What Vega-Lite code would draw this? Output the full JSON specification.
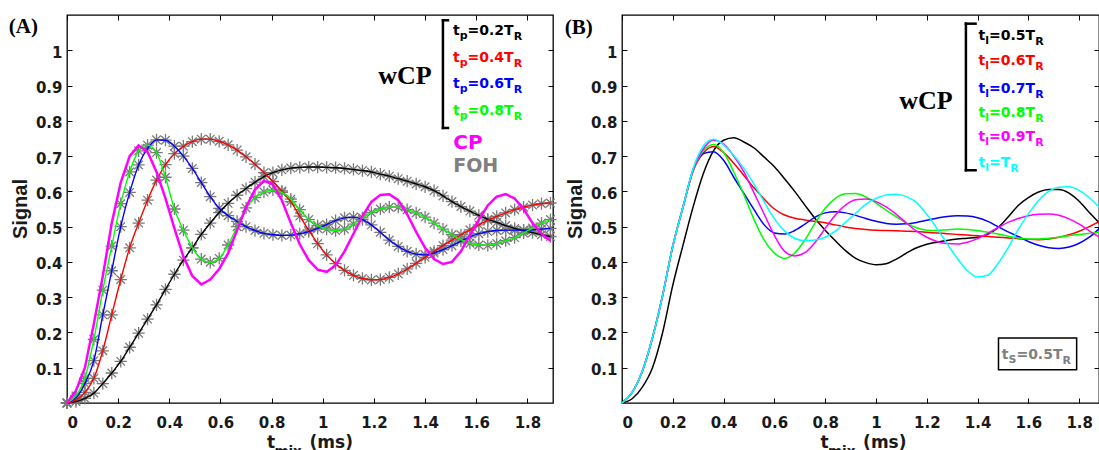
{
"$schema": "https://vega.github.io/schema/vega-lite/v6.json",
"background": "white",
"padding": {"left": 8, "top": 13, "right": 0, "bottom": 0},
"autosize": {"type": "pad"},
"bounds": "flush",
"spacing": 69,
"resolve": {"scale": {"color": "independent"}},
"config": {
  "view": {"stroke": "#000000", "strokeWidth": 1.3},
  "axis": {"grid": false, "domain": false, "tickColor": "#000000", "tickSize": -5, "tickWidth": 1,
    "labelFont": "DejaVu Sans", "labelFontWeight": "bold", "labelFontSize": 15, "labelColor": "#1a1a1a"},
  "text": {"font": "DejaVu Sans", "fontWeight": "bold", "align": "left", "baseline": "alphabetic"}
},
"datasets": {
"a": [
{"series":"tp=0.2TR","t":0,"signal":0},{"series":"tp=0.2TR","t":0.035,"signal":0.004},{"series":"tp=0.2TR","t":0.07,"signal":0.013},{"series":"tp=0.2TR","t":0.105,"signal":0.028},{"series":"tp=0.2TR","t":0.14,"signal":0.055},{"series":"tp=0.2TR","t":0.175,"signal":0.085},{"series":"tp=0.2TR","t":0.21,"signal":0.118},{"series":"tp=0.2TR","t":0.245,"signal":0.158},{"series":"tp=0.2TR","t":0.28,"signal":0.198},{"series":"tp=0.2TR","t":0.315,"signal":0.238},{"series":"tp=0.2TR","t":0.35,"signal":0.278},{"series":"tp=0.2TR","t":0.385,"signal":0.322},{"series":"tp=0.2TR","t":0.42,"signal":0.365},{"series":"tp=0.2TR","t":0.455,"signal":0.405},{"series":"tp=0.2TR","t":0.49,"signal":0.44},{"series":"tp=0.2TR","t":0.525,"signal":0.478},{"series":"tp=0.2TR","t":0.56,"signal":0.51},{"series":"tp=0.2TR","t":0.595,"signal":0.54},{"series":"tp=0.2TR","t":0.63,"signal":0.566},{"series":"tp=0.2TR","t":0.665,"signal":0.589},{"series":"tp=0.2TR","t":0.7,"signal":0.608},{"series":"tp=0.2TR","t":0.735,"signal":0.626},{"series":"tp=0.2TR","t":0.77,"signal":0.642},{"series":"tp=0.2TR","t":0.805,"signal":0.653},{"series":"tp=0.2TR","t":0.84,"signal":0.661},{"series":"tp=0.2TR","t":0.875,"signal":0.666},{"series":"tp=0.2TR","t":0.91,"signal":0.668},{"series":"tp=0.2TR","t":0.945,"signal":0.669},{"series":"tp=0.2TR","t":0.98,"signal":0.669},{"series":"tp=0.2TR","t":1.015,"signal":0.668},{"series":"tp=0.2TR","t":1.05,"signal":0.667},{"series":"tp=0.2TR","t":1.085,"signal":0.665},{"series":"tp=0.2TR","t":1.12,"signal":0.662},{"series":"tp=0.2TR","t":1.155,"signal":0.659},{"series":"tp=0.2TR","t":1.19,"signal":0.655},{"series":"tp=0.2TR","t":1.225,"signal":0.649},{"series":"tp=0.2TR","t":1.26,"signal":0.643},{"series":"tp=0.2TR","t":1.295,"signal":0.636},{"series":"tp=0.2TR","t":1.33,"signal":0.629},{"series":"tp=0.2TR","t":1.365,"signal":0.621},{"series":"tp=0.2TR","t":1.4,"signal":0.613},{"series":"tp=0.2TR","t":1.435,"signal":0.602},{"series":"tp=0.2TR","t":1.47,"signal":0.587},{"series":"tp=0.2TR","t":1.505,"signal":0.571},{"series":"tp=0.2TR","t":1.54,"signal":0.557},{"series":"tp=0.2TR","t":1.575,"signal":0.544},{"series":"tp=0.2TR","t":1.61,"signal":0.532},{"series":"tp=0.2TR","t":1.645,"signal":0.521},{"series":"tp=0.2TR","t":1.68,"signal":0.512},{"series":"tp=0.2TR","t":1.715,"signal":0.503},{"series":"tp=0.2TR","t":1.75,"signal":0.495},{"series":"tp=0.2TR","t":1.785,"signal":0.489},{"series":"tp=0.2TR","t":1.82,"signal":0.483},{"series":"tp=0.2TR","t":1.855,"signal":0.477},{"series":"tp=0.2TR","t":1.89,"signal":0.472},
{"series":"tp=0.4TR","t":0,"signal":0},{"series":"tp=0.4TR","t":0.035,"signal":0.008},{"series":"tp=0.4TR","t":0.07,"signal":0.03},{"series":"tp=0.4TR","t":0.105,"signal":0.07},{"series":"tp=0.4TR","t":0.14,"signal":0.148},{"series":"tp=0.4TR","t":0.175,"signal":0.25},{"series":"tp=0.4TR","t":0.21,"signal":0.35},{"series":"tp=0.4TR","t":0.245,"signal":0.44},{"series":"tp=0.4TR","t":0.28,"signal":0.51},{"series":"tp=0.4TR","t":0.315,"signal":0.575},{"series":"tp=0.4TR","t":0.35,"signal":0.632},{"series":"tp=0.4TR","t":0.385,"signal":0.676},{"series":"tp=0.4TR","t":0.42,"signal":0.707},{"series":"tp=0.4TR","t":0.455,"signal":0.728},{"series":"tp=0.4TR","t":0.49,"signal":0.741},{"series":"tp=0.4TR","t":0.525,"signal":0.748},{"series":"tp=0.4TR","t":0.56,"signal":0.748},{"series":"tp=0.4TR","t":0.595,"signal":0.742},{"series":"tp=0.4TR","t":0.63,"signal":0.732},{"series":"tp=0.4TR","t":0.665,"signal":0.717},{"series":"tp=0.4TR","t":0.7,"signal":0.698},{"series":"tp=0.4TR","t":0.735,"signal":0.677},{"series":"tp=0.4TR","t":0.77,"signal":0.653},{"series":"tp=0.4TR","t":0.805,"signal":0.628},{"series":"tp=0.4TR","t":0.84,"signal":0.601},{"series":"tp=0.4TR","t":0.875,"signal":0.571},{"series":"tp=0.4TR","t":0.91,"signal":0.53},{"series":"tp=0.4TR","t":0.945,"signal":0.49},{"series":"tp=0.4TR","t":0.98,"signal":0.452},{"series":"tp=0.4TR","t":1.015,"signal":0.42},{"series":"tp=0.4TR","t":1.05,"signal":0.395},{"series":"tp=0.4TR","t":1.085,"signal":0.376},{"series":"tp=0.4TR","t":1.12,"signal":0.362},{"series":"tp=0.4TR","t":1.155,"signal":0.353},{"series":"tp=0.4TR","t":1.19,"signal":0.349},{"series":"tp=0.4TR","t":1.225,"signal":0.35},{"series":"tp=0.4TR","t":1.26,"signal":0.356},{"series":"tp=0.4TR","t":1.295,"signal":0.366},{"series":"tp=0.4TR","t":1.33,"signal":0.38},{"series":"tp=0.4TR","t":1.365,"signal":0.396},{"series":"tp=0.4TR","t":1.4,"signal":0.413},{"series":"tp=0.4TR","t":1.435,"signal":0.43},{"series":"tp=0.4TR","t":1.47,"signal":0.446},{"series":"tp=0.4TR","t":1.505,"signal":0.462},{"series":"tp=0.4TR","t":1.54,"signal":0.477},{"series":"tp=0.4TR","t":1.575,"signal":0.491},{"series":"tp=0.4TR","t":1.61,"signal":0.505},{"series":"tp=0.4TR","t":1.645,"signal":0.518},{"series":"tp=0.4TR","t":1.68,"signal":0.529},{"series":"tp=0.4TR","t":1.715,"signal":0.539},{"series":"tp=0.4TR","t":1.75,"signal":0.548},{"series":"tp=0.4TR","t":1.785,"signal":0.555},{"series":"tp=0.4TR","t":1.82,"signal":0.561},{"series":"tp=0.4TR","t":1.855,"signal":0.565},{"series":"tp=0.4TR","t":1.89,"signal":0.567},
{"series":"tp=0.6TR","t":0,"signal":0},{"series":"tp=0.6TR","t":0.035,"signal":0.015},{"series":"tp=0.6TR","t":0.07,"signal":0.055},{"series":"tp=0.6TR","t":0.105,"signal":0.12},{"series":"tp=0.6TR","t":0.14,"signal":0.25},{"series":"tp=0.6TR","t":0.175,"signal":0.375},{"series":"tp=0.6TR","t":0.21,"signal":0.5},{"series":"tp=0.6TR","t":0.245,"signal":0.597},{"series":"tp=0.6TR","t":0.28,"signal":0.675},{"series":"tp=0.6TR","t":0.315,"signal":0.722},{"series":"tp=0.6TR","t":0.35,"signal":0.746},{"series":"tp=0.6TR","t":0.385,"signal":0.745},{"series":"tp=0.6TR","t":0.42,"signal":0.728},{"series":"tp=0.6TR","t":0.455,"signal":0.7},{"series":"tp=0.6TR","t":0.49,"signal":0.665},{"series":"tp=0.6TR","t":0.525,"signal":0.625},{"series":"tp=0.6TR","t":0.56,"signal":0.585},{"series":"tp=0.6TR","t":0.595,"signal":0.552},{"series":"tp=0.6TR","t":0.63,"signal":0.531},{"series":"tp=0.6TR","t":0.665,"signal":0.515},{"series":"tp=0.6TR","t":0.7,"signal":0.5},{"series":"tp=0.6TR","t":0.735,"signal":0.489},{"series":"tp=0.6TR","t":0.77,"signal":0.481},{"series":"tp=0.6TR","t":0.805,"signal":0.477},{"series":"tp=0.6TR","t":0.84,"signal":0.475},{"series":"tp=0.6TR","t":0.875,"signal":0.476},{"series":"tp=0.6TR","t":0.91,"signal":0.48},{"series":"tp=0.6TR","t":0.945,"signal":0.486},{"series":"tp=0.6TR","t":0.98,"signal":0.495},{"series":"tp=0.6TR","t":1.015,"signal":0.506},{"series":"tp=0.6TR","t":1.05,"signal":0.517},{"series":"tp=0.6TR","t":1.085,"signal":0.525},{"series":"tp=0.6TR","t":1.12,"signal":0.527},{"series":"tp=0.6TR","t":1.155,"signal":0.52},{"series":"tp=0.6TR","t":1.19,"signal":0.505},{"series":"tp=0.6TR","t":1.225,"signal":0.484},{"series":"tp=0.6TR","t":1.26,"signal":0.462},{"series":"tp=0.6TR","t":1.295,"signal":0.444},{"series":"tp=0.6TR","t":1.33,"signal":0.43},{"series":"tp=0.6TR","t":1.365,"signal":0.422},{"series":"tp=0.6TR","t":1.4,"signal":0.42},{"series":"tp=0.6TR","t":1.435,"signal":0.425},{"series":"tp=0.6TR","t":1.47,"signal":0.435},{"series":"tp=0.6TR","t":1.505,"signal":0.446},{"series":"tp=0.6TR","t":1.54,"signal":0.459},{"series":"tp=0.6TR","t":1.575,"signal":0.471},{"series":"tp=0.6TR","t":1.61,"signal":0.48},{"series":"tp=0.6TR","t":1.645,"signal":0.486},{"series":"tp=0.6TR","t":1.68,"signal":0.489},{"series":"tp=0.6TR","t":1.715,"signal":0.49},{"series":"tp=0.6TR","t":1.75,"signal":0.49},{"series":"tp=0.6TR","t":1.785,"signal":0.49},{"series":"tp=0.6TR","t":1.82,"signal":0.491},{"series":"tp=0.6TR","t":1.855,"signal":0.493},{"series":"tp=0.6TR","t":1.89,"signal":0.495},
{"series":"tp=0.8TR","t":0,"signal":0},{"series":"tp=0.8TR","t":0.035,"signal":0.02},{"series":"tp=0.8TR","t":0.07,"signal":0.07},{"series":"tp=0.8TR","t":0.105,"signal":0.18},{"series":"tp=0.8TR","t":0.14,"signal":0.32},{"series":"tp=0.8TR","t":0.175,"signal":0.445},{"series":"tp=0.8TR","t":0.21,"signal":0.565},{"series":"tp=0.8TR","t":0.245,"signal":0.655},{"series":"tp=0.8TR","t":0.28,"signal":0.715},{"series":"tp=0.8TR","t":0.315,"signal":0.731},{"series":"tp=0.8TR","t":0.35,"signal":0.71},{"series":"tp=0.8TR","t":0.385,"signal":0.64},{"series":"tp=0.8TR","t":0.42,"signal":0.55},{"series":"tp=0.8TR","t":0.455,"signal":0.49},{"series":"tp=0.8TR","t":0.49,"signal":0.44},{"series":"tp=0.8TR","t":0.525,"signal":0.408},{"series":"tp=0.8TR","t":0.56,"signal":0.399},{"series":"tp=0.8TR","t":0.595,"signal":0.41},{"series":"tp=0.8TR","t":0.63,"signal":0.448},{"series":"tp=0.8TR","t":0.665,"signal":0.5},{"series":"tp=0.8TR","t":0.7,"signal":0.553},{"series":"tp=0.8TR","t":0.735,"signal":0.582},{"series":"tp=0.8TR","t":0.77,"signal":0.598},{"series":"tp=0.8TR","t":0.805,"signal":0.604},{"series":"tp=0.8TR","t":0.84,"signal":0.597},{"series":"tp=0.8TR","t":0.875,"signal":0.578},{"series":"tp=0.8TR","t":0.91,"signal":0.548},{"series":"tp=0.8TR","t":0.945,"signal":0.52},{"series":"tp=0.8TR","t":0.98,"signal":0.503},{"series":"tp=0.8TR","t":1.015,"signal":0.493},{"series":"tp=0.8TR","t":1.05,"signal":0.489},{"series":"tp=0.8TR","t":1.085,"signal":0.493},{"series":"tp=0.8TR","t":1.12,"signal":0.507},{"series":"tp=0.8TR","t":1.155,"signal":0.525},{"series":"tp=0.8TR","t":1.19,"signal":0.54},{"series":"tp=0.8TR","t":1.225,"signal":0.55},{"series":"tp=0.8TR","t":1.26,"signal":0.555},{"series":"tp=0.8TR","t":1.295,"signal":0.555},{"series":"tp=0.8TR","t":1.33,"signal":0.548},{"series":"tp=0.8TR","t":1.365,"signal":0.539},{"series":"tp=0.8TR","t":1.4,"signal":0.527},{"series":"tp=0.8TR","t":1.435,"signal":0.51},{"series":"tp=0.8TR","t":1.47,"signal":0.493},{"series":"tp=0.8TR","t":1.505,"signal":0.477},{"series":"tp=0.8TR","t":1.54,"signal":0.463},{"series":"tp=0.8TR","t":1.575,"signal":0.453},{"series":"tp=0.8TR","t":1.61,"signal":0.448},{"series":"tp=0.8TR","t":1.645,"signal":0.447},{"series":"tp=0.8TR","t":1.68,"signal":0.452},{"series":"tp=0.8TR","t":1.715,"signal":0.46},{"series":"tp=0.8TR","t":1.75,"signal":0.469},{"series":"tp=0.8TR","t":1.785,"signal":0.482},{"series":"tp=0.8TR","t":1.82,"signal":0.496},{"series":"tp=0.8TR","t":1.855,"signal":0.51},{"series":"tp=0.8TR","t":1.89,"signal":0.52},
{"series":"CP","t":0,"signal":0},{"series":"CP","t":0.035,"signal":0.035},{"series":"CP","t":0.07,"signal":0.1},{"series":"CP","t":0.105,"signal":0.225},{"series":"CP","t":0.14,"signal":0.36},{"series":"CP","t":0.175,"signal":0.51},{"series":"CP","t":0.21,"signal":0.625},{"series":"CP","t":0.245,"signal":0.7},{"series":"CP","t":0.28,"signal":0.73},{"series":"CP","t":0.315,"signal":0.712},{"series":"CP","t":0.35,"signal":0.655},{"series":"CP","t":0.385,"signal":0.58},{"series":"CP","t":0.42,"signal":0.495},{"series":"CP","t":0.455,"signal":0.415},{"series":"CP","t":0.49,"signal":0.36},{"series":"CP","t":0.525,"signal":0.336},{"series":"CP","t":0.56,"signal":0.35},{"series":"CP","t":0.595,"signal":0.38},{"series":"CP","t":0.63,"signal":0.425},{"series":"CP","t":0.665,"signal":0.49},{"series":"CP","t":0.7,"signal":0.555},{"series":"CP","t":0.735,"signal":0.605},{"series":"CP","t":0.77,"signal":0.63},{"series":"CP","t":0.805,"signal":0.62},{"series":"CP","t":0.84,"signal":0.575},{"series":"CP","t":0.875,"signal":0.51},{"series":"CP","t":0.91,"signal":0.45},{"series":"CP","t":0.945,"signal":0.405},{"series":"CP","t":0.98,"signal":0.378},{"series":"CP","t":1.015,"signal":0.372},{"series":"CP","t":1.05,"signal":0.39},{"series":"CP","t":1.085,"signal":0.43},{"series":"CP","t":1.12,"signal":0.48},{"series":"CP","t":1.155,"signal":0.53},{"series":"CP","t":1.19,"signal":0.57},{"series":"CP","t":1.225,"signal":0.59},{"series":"CP","t":1.26,"signal":0.592},{"series":"CP","t":1.295,"signal":0.575},{"series":"CP","t":1.33,"signal":0.535},{"series":"CP","t":1.365,"signal":0.485},{"series":"CP","t":1.4,"signal":0.44},{"series":"CP","t":1.435,"signal":0.408},{"series":"CP","t":1.47,"signal":0.394},{"series":"CP","t":1.505,"signal":0.4},{"series":"CP","t":1.54,"signal":0.43},{"series":"CP","t":1.575,"signal":0.475},{"series":"CP","t":1.61,"signal":0.52},{"series":"CP","t":1.645,"signal":0.56},{"series":"CP","t":1.68,"signal":0.585},{"series":"CP","t":1.715,"signal":0.592},{"series":"CP","t":1.75,"signal":0.58},{"series":"CP","t":1.785,"signal":0.55},{"series":"CP","t":1.82,"signal":0.51},{"series":"CP","t":1.855,"signal":0.48},{"series":"CP","t":1.89,"signal":0.46}
],
"b": [
{"series":"tl=0.5TR","t":0,"signal":0},{"series":"tl=0.5TR","t":0.04,"signal":0.012},{"series":"tl=0.5TR","t":0.08,"signal":0.045},{"series":"tl=0.5TR","t":0.12,"signal":0.1},{"series":"tl=0.5TR","t":0.16,"signal":0.2},{"series":"tl=0.5TR","t":0.2,"signal":0.334},{"series":"tl=0.5TR","t":0.24,"signal":0.447},{"series":"tl=0.5TR","t":0.28,"signal":0.556},{"series":"tl=0.5TR","t":0.32,"signal":0.65},{"series":"tl=0.5TR","t":0.36,"signal":0.715},{"series":"tl=0.5TR","t":0.4,"signal":0.745},{"series":"tl=0.5TR","t":0.44,"signal":0.752},{"series":"tl=0.5TR","t":0.48,"signal":0.74},{"series":"tl=0.5TR","t":0.52,"signal":0.723},{"series":"tl=0.5TR","t":0.56,"signal":0.697},{"series":"tl=0.5TR","t":0.6,"signal":0.67},{"series":"tl=0.5TR","t":0.64,"signal":0.636},{"series":"tl=0.5TR","t":0.68,"signal":0.6},{"series":"tl=0.5TR","t":0.72,"signal":0.561},{"series":"tl=0.5TR","t":0.76,"signal":0.523},{"series":"tl=0.5TR","t":0.8,"signal":0.49},{"series":"tl=0.5TR","t":0.84,"signal":0.46},{"series":"tl=0.5TR","t":0.88,"signal":0.432},{"series":"tl=0.5TR","t":0.92,"signal":0.41},{"series":"tl=0.5TR","t":0.96,"signal":0.398},{"series":"tl=0.5TR","t":1,"signal":0.392},{"series":"tl=0.5TR","t":1.04,"signal":0.395},{"series":"tl=0.5TR","t":1.08,"signal":0.408},{"series":"tl=0.5TR","t":1.12,"signal":0.425},{"series":"tl=0.5TR","t":1.16,"signal":0.44},{"series":"tl=0.5TR","t":1.2,"signal":0.45},{"series":"tl=0.5TR","t":1.24,"signal":0.456},{"series":"tl=0.5TR","t":1.28,"signal":0.461},{"series":"tl=0.5TR","t":1.32,"signal":0.465},{"series":"tl=0.5TR","t":1.36,"signal":0.467},{"series":"tl=0.5TR","t":1.4,"signal":0.47},{"series":"tl=0.5TR","t":1.44,"signal":0.478},{"series":"tl=0.5TR","t":1.48,"signal":0.497},{"series":"tl=0.5TR","t":1.52,"signal":0.527},{"series":"tl=0.5TR","t":1.56,"signal":0.56},{"series":"tl=0.5TR","t":1.6,"signal":0.582},{"series":"tl=0.5TR","t":1.64,"signal":0.598},{"series":"tl=0.5TR","t":1.68,"signal":0.605},{"series":"tl=0.5TR","t":1.72,"signal":0.605},{"series":"tl=0.5TR","t":1.76,"signal":0.595},{"series":"tl=0.5TR","t":1.8,"signal":0.572},{"series":"tl=0.5TR","t":1.84,"signal":0.54},{"series":"tl=0.5TR","t":1.88,"signal":0.51},
{"series":"tl=0.6TR","t":0,"signal":0},{"series":"tl=0.6TR","t":0.04,"signal":0.03},{"series":"tl=0.6TR","t":0.08,"signal":0.09},{"series":"tl=0.6TR","t":0.12,"signal":0.185},{"series":"tl=0.6TR","t":0.16,"signal":0.305},{"series":"tl=0.6TR","t":0.2,"signal":0.445},{"series":"tl=0.6TR","t":0.24,"signal":0.555},{"series":"tl=0.6TR","t":0.28,"signal":0.658},{"series":"tl=0.6TR","t":0.32,"signal":0.708},{"series":"tl=0.6TR","t":0.36,"signal":0.727},{"series":"tl=0.6TR","t":0.4,"signal":0.71},{"series":"tl=0.6TR","t":0.44,"signal":0.68},{"series":"tl=0.6TR","t":0.48,"signal":0.645},{"series":"tl=0.6TR","t":0.52,"signal":0.61},{"series":"tl=0.6TR","t":0.56,"signal":0.578},{"series":"tl=0.6TR","t":0.6,"signal":0.55},{"series":"tl=0.6TR","t":0.64,"signal":0.533},{"series":"tl=0.6TR","t":0.68,"signal":0.524},{"series":"tl=0.6TR","t":0.72,"signal":0.519},{"series":"tl=0.6TR","t":0.76,"signal":0.515},{"series":"tl=0.6TR","t":0.8,"signal":0.511},{"series":"tl=0.6TR","t":0.84,"signal":0.505},{"series":"tl=0.6TR","t":0.88,"signal":0.499},{"series":"tl=0.6TR","t":0.92,"signal":0.495},{"series":"tl=0.6TR","t":0.96,"signal":0.492},{"series":"tl=0.6TR","t":1,"signal":0.49},{"series":"tl=0.6TR","t":1.04,"signal":0.489},{"series":"tl=0.6TR","t":1.08,"signal":0.488},{"series":"tl=0.6TR","t":1.12,"signal":0.487},{"series":"tl=0.6TR","t":1.16,"signal":0.486},{"series":"tl=0.6TR","t":1.2,"signal":0.484},{"series":"tl=0.6TR","t":1.24,"signal":0.482},{"series":"tl=0.6TR","t":1.28,"signal":0.48},{"series":"tl=0.6TR","t":1.32,"signal":0.478},{"series":"tl=0.6TR","t":1.36,"signal":0.476},{"series":"tl=0.6TR","t":1.4,"signal":0.474},{"series":"tl=0.6TR","t":1.44,"signal":0.472},{"series":"tl=0.6TR","t":1.48,"signal":0.47},{"series":"tl=0.6TR","t":1.52,"signal":0.468},{"series":"tl=0.6TR","t":1.56,"signal":0.466},{"series":"tl=0.6TR","t":1.6,"signal":0.464},{"series":"tl=0.6TR","t":1.64,"signal":0.463},{"series":"tl=0.6TR","t":1.68,"signal":0.465},{"series":"tl=0.6TR","t":1.72,"signal":0.47},{"series":"tl=0.6TR","t":1.76,"signal":0.477},{"series":"tl=0.6TR","t":1.8,"signal":0.487},{"series":"tl=0.6TR","t":1.84,"signal":0.5},{"series":"tl=0.6TR","t":1.88,"signal":0.515},
{"series":"tl=0.7TR","t":0,"signal":0},{"series":"tl=0.7TR","t":0.04,"signal":0.03},{"series":"tl=0.7TR","t":0.08,"signal":0.09},{"series":"tl=0.7TR","t":0.12,"signal":0.185},{"series":"tl=0.7TR","t":0.16,"signal":0.305},{"series":"tl=0.7TR","t":0.2,"signal":0.445},{"series":"tl=0.7TR","t":0.24,"signal":0.555},{"series":"tl=0.7TR","t":0.28,"signal":0.662},{"series":"tl=0.7TR","t":0.32,"signal":0.707},{"series":"tl=0.7TR","t":0.36,"signal":0.712},{"series":"tl=0.7TR","t":0.4,"signal":0.688},{"series":"tl=0.7TR","t":0.44,"signal":0.64},{"series":"tl=0.7TR","t":0.48,"signal":0.594},{"series":"tl=0.7TR","t":0.52,"signal":0.548},{"series":"tl=0.7TR","t":0.56,"signal":0.505},{"series":"tl=0.7TR","t":0.6,"signal":0.482},{"series":"tl=0.7TR","t":0.64,"signal":0.479},{"series":"tl=0.7TR","t":0.68,"signal":0.489},{"series":"tl=0.7TR","t":0.72,"signal":0.507},{"series":"tl=0.7TR","t":0.76,"signal":0.527},{"series":"tl=0.7TR","t":0.8,"signal":0.539},{"series":"tl=0.7TR","t":0.84,"signal":0.542},{"series":"tl=0.7TR","t":0.88,"signal":0.539},{"series":"tl=0.7TR","t":0.92,"signal":0.532},{"series":"tl=0.7TR","t":0.96,"signal":0.523},{"series":"tl=0.7TR","t":1,"signal":0.515},{"series":"tl=0.7TR","t":1.04,"signal":0.509},{"series":"tl=0.7TR","t":1.08,"signal":0.507},{"series":"tl=0.7TR","t":1.12,"signal":0.508},{"series":"tl=0.7TR","t":1.16,"signal":0.512},{"series":"tl=0.7TR","t":1.2,"signal":0.518},{"series":"tl=0.7TR","t":1.24,"signal":0.524},{"series":"tl=0.7TR","t":1.28,"signal":0.529},{"series":"tl=0.7TR","t":1.32,"signal":0.531},{"series":"tl=0.7TR","t":1.36,"signal":0.53},{"series":"tl=0.7TR","t":1.4,"signal":0.525},{"series":"tl=0.7TR","t":1.44,"signal":0.515},{"series":"tl=0.7TR","t":1.48,"signal":0.5},{"series":"tl=0.7TR","t":1.52,"signal":0.485},{"series":"tl=0.7TR","t":1.56,"signal":0.472},{"series":"tl=0.7TR","t":1.6,"signal":0.458},{"series":"tl=0.7TR","t":1.64,"signal":0.447},{"series":"tl=0.7TR","t":1.68,"signal":0.44},{"series":"tl=0.7TR","t":1.72,"signal":0.438},{"series":"tl=0.7TR","t":1.76,"signal":0.442},{"series":"tl=0.7TR","t":1.8,"signal":0.453},{"series":"tl=0.7TR","t":1.84,"signal":0.47},{"series":"tl=0.7TR","t":1.88,"signal":0.495},
{"series":"tl=0.8TR","t":0,"signal":0},{"series":"tl=0.8TR","t":0.04,"signal":0.03},{"series":"tl=0.8TR","t":0.08,"signal":0.09},{"series":"tl=0.8TR","t":0.12,"signal":0.185},{"series":"tl=0.8TR","t":0.16,"signal":0.305},{"series":"tl=0.8TR","t":0.2,"signal":0.445},{"series":"tl=0.8TR","t":0.24,"signal":0.555},{"series":"tl=0.8TR","t":0.28,"signal":0.658},{"series":"tl=0.8TR","t":0.32,"signal":0.715},{"series":"tl=0.8TR","t":0.36,"signal":0.733},{"series":"tl=0.8TR","t":0.4,"signal":0.71},{"series":"tl=0.8TR","t":0.44,"signal":0.655},{"series":"tl=0.8TR","t":0.48,"signal":0.59},{"series":"tl=0.8TR","t":0.52,"signal":0.52},{"series":"tl=0.8TR","t":0.56,"signal":0.462},{"series":"tl=0.8TR","t":0.6,"signal":0.425},{"series":"tl=0.8TR","t":0.64,"signal":0.41},{"series":"tl=0.8TR","t":0.68,"signal":0.425},{"series":"tl=0.8TR","t":0.72,"signal":0.462},{"series":"tl=0.8TR","t":0.76,"signal":0.51},{"series":"tl=0.8TR","t":0.8,"signal":0.552},{"series":"tl=0.8TR","t":0.84,"signal":0.58},{"series":"tl=0.8TR","t":0.88,"signal":0.593},{"series":"tl=0.8TR","t":0.92,"signal":0.594},{"series":"tl=0.8TR","t":0.96,"signal":0.584},{"series":"tl=0.8TR","t":1,"signal":0.567},{"series":"tl=0.8TR","t":1.04,"signal":0.547},{"series":"tl=0.8TR","t":1.08,"signal":0.528},{"series":"tl=0.8TR","t":1.12,"signal":0.51},{"series":"tl=0.8TR","t":1.16,"signal":0.497},{"series":"tl=0.8TR","t":1.2,"signal":0.49},{"series":"tl=0.8TR","t":1.24,"signal":0.489},{"series":"tl=0.8TR","t":1.28,"signal":0.491},{"series":"tl=0.8TR","t":1.32,"signal":0.493},{"series":"tl=0.8TR","t":1.36,"signal":0.492},{"series":"tl=0.8TR","t":1.4,"signal":0.489},{"series":"tl=0.8TR","t":1.44,"signal":0.484},{"series":"tl=0.8TR","t":1.48,"signal":0.479},{"series":"tl=0.8TR","t":1.52,"signal":0.473},{"series":"tl=0.8TR","t":1.56,"signal":0.468},{"series":"tl=0.8TR","t":1.6,"signal":0.465},{"series":"tl=0.8TR","t":1.64,"signal":0.465},{"series":"tl=0.8TR","t":1.68,"signal":0.467},{"series":"tl=0.8TR","t":1.72,"signal":0.47},{"series":"tl=0.8TR","t":1.76,"signal":0.474},{"series":"tl=0.8TR","t":1.8,"signal":0.478},{"series":"tl=0.8TR","t":1.84,"signal":0.481},{"series":"tl=0.8TR","t":1.88,"signal":0.484},
{"series":"tl=0.9TR","t":0,"signal":0},{"series":"tl=0.9TR","t":0.04,"signal":0.03},{"series":"tl=0.9TR","t":0.08,"signal":0.09},{"series":"tl=0.9TR","t":0.12,"signal":0.185},{"series":"tl=0.9TR","t":0.16,"signal":0.305},{"series":"tl=0.9TR","t":0.2,"signal":0.445},{"series":"tl=0.9TR","t":0.24,"signal":0.555},{"series":"tl=0.9TR","t":0.28,"signal":0.66},{"series":"tl=0.9TR","t":0.32,"signal":0.72},{"series":"tl=0.9TR","t":0.36,"signal":0.745},{"series":"tl=0.9TR","t":0.4,"signal":0.735},{"series":"tl=0.9TR","t":0.44,"signal":0.7},{"series":"tl=0.9TR","t":0.48,"signal":0.655},{"series":"tl=0.9TR","t":0.52,"signal":0.595},{"series":"tl=0.9TR","t":0.56,"signal":0.535},{"series":"tl=0.9TR","t":0.6,"signal":0.475},{"series":"tl=0.9TR","t":0.64,"signal":0.43},{"series":"tl=0.9TR","t":0.68,"signal":0.417},{"series":"tl=0.9TR","t":0.72,"signal":0.426},{"series":"tl=0.9TR","t":0.76,"signal":0.455},{"series":"tl=0.9TR","t":0.8,"signal":0.495},{"series":"tl=0.9TR","t":0.84,"signal":0.533},{"series":"tl=0.9TR","t":0.88,"signal":0.561},{"series":"tl=0.9TR","t":0.92,"signal":0.576},{"series":"tl=0.9TR","t":0.96,"signal":0.578},{"series":"tl=0.9TR","t":1,"signal":0.571},{"series":"tl=0.9TR","t":1.04,"signal":0.556},{"series":"tl=0.9TR","t":1.08,"signal":0.535},{"series":"tl=0.9TR","t":1.12,"signal":0.51},{"series":"tl=0.9TR","t":1.16,"signal":0.487},{"series":"tl=0.9TR","t":1.2,"signal":0.47},{"series":"tl=0.9TR","t":1.24,"signal":0.458},{"series":"tl=0.9TR","t":1.28,"signal":0.452},{"series":"tl=0.9TR","t":1.32,"signal":0.451},{"series":"tl=0.9TR","t":1.36,"signal":0.456},{"series":"tl=0.9TR","t":1.4,"signal":0.466},{"series":"tl=0.9TR","t":1.44,"signal":0.481},{"series":"tl=0.9TR","t":1.48,"signal":0.497},{"series":"tl=0.9TR","t":1.52,"signal":0.512},{"series":"tl=0.9TR","t":1.56,"signal":0.523},{"series":"tl=0.9TR","t":1.6,"signal":0.531},{"series":"tl=0.9TR","t":1.64,"signal":0.535},{"series":"tl=0.9TR","t":1.68,"signal":0.536},{"series":"tl=0.9TR","t":1.72,"signal":0.532},{"series":"tl=0.9TR","t":1.76,"signal":0.522},{"series":"tl=0.9TR","t":1.8,"signal":0.507},{"series":"tl=0.9TR","t":1.84,"signal":0.488},{"series":"tl=0.9TR","t":1.88,"signal":0.47},
{"series":"tl=TR","t":0,"signal":0},{"series":"tl=TR","t":0.04,"signal":0.03},{"series":"tl=TR","t":0.08,"signal":0.09},{"series":"tl=TR","t":0.12,"signal":0.185},{"series":"tl=TR","t":0.16,"signal":0.305},{"series":"tl=TR","t":0.2,"signal":0.445},{"series":"tl=TR","t":0.24,"signal":0.555},{"series":"tl=TR","t":0.28,"signal":0.665},{"series":"tl=TR","t":0.32,"signal":0.728},{"series":"tl=TR","t":0.36,"signal":0.748},{"series":"tl=TR","t":0.4,"signal":0.732},{"series":"tl=TR","t":0.44,"signal":0.702},{"series":"tl=TR","t":0.48,"signal":0.665},{"series":"tl=TR","t":0.52,"signal":0.62},{"series":"tl=TR","t":0.56,"signal":0.57},{"series":"tl=TR","t":0.6,"signal":0.522},{"series":"tl=TR","t":0.64,"signal":0.488},{"series":"tl=TR","t":0.68,"signal":0.467},{"series":"tl=TR","t":0.72,"signal":0.46},{"series":"tl=TR","t":0.76,"signal":0.462},{"series":"tl=TR","t":0.8,"signal":0.47},{"series":"tl=TR","t":0.84,"signal":0.487},{"series":"tl=TR","t":0.88,"signal":0.512},{"series":"tl=TR","t":0.92,"signal":0.538},{"series":"tl=TR","t":0.96,"signal":0.563},{"series":"tl=TR","t":1,"signal":0.58},{"series":"tl=TR","t":1.04,"signal":0.59},{"series":"tl=TR","t":1.08,"signal":0.592},{"series":"tl=TR","t":1.12,"signal":0.585},{"series":"tl=TR","t":1.16,"signal":0.568},{"series":"tl=TR","t":1.2,"signal":0.535},{"series":"tl=TR","t":1.24,"signal":0.495},{"series":"tl=TR","t":1.28,"signal":0.452},{"series":"tl=TR","t":1.32,"signal":0.41},{"series":"tl=TR","t":1.36,"signal":0.375},{"series":"tl=TR","t":1.4,"signal":0.357},{"series":"tl=TR","t":1.44,"signal":0.362},{"series":"tl=TR","t":1.48,"signal":0.395},{"series":"tl=TR","t":1.52,"signal":0.44},{"series":"tl=TR","t":1.56,"signal":0.492},{"series":"tl=TR","t":1.6,"signal":0.536},{"series":"tl=TR","t":1.64,"signal":0.574},{"series":"tl=TR","t":1.68,"signal":0.6},{"series":"tl=TR","t":1.72,"signal":0.612},{"series":"tl=TR","t":1.76,"signal":0.613},{"series":"tl=TR","t":1.8,"signal":0.603},{"series":"tl=TR","t":1.84,"signal":0.582},{"series":"tl=TR","t":1.88,"signal":0.554}
]
},
"hconcat": [
{
  "width": 486, "height": 388,
  "resolve": {"axis": {"x": "independent", "y": "independent"}},
  "layer": [
    {"data": {"name": "a"}, "transform": [{"filter": "datum.series !== 'CP'"}],
     "mark": {"type": "point", "shape": "M0,-1L0,1M-1,0L1,0M-0.7,-0.7L0.7,0.7M-0.7,0.7L0.7,-0.7", "filled": false, "stroke": "#7a7a7a", "strokeWidth": 1.3, "size": 150, "opacity": 1},
     "encoding": {
       "x": {"field": "t", "type": "quantitative", "scale": {"domain": [0, 1.9], "nice": false, "zero": false}, "axis": {"orient": "top", "labels": false, "title": null, "values": [0,0.2,0.4,0.6,0.8,1,1.2,1.4,1.6,1.8]}},
       "y": {"field": "signal", "type": "quantitative", "scale": {"domain": [0, 1.1], "nice": false}, "axis": {"orient": "right", "labels": false, "title": null, "values": [0.1,0.2,0.3,0.4,0.5,0.6,0.7,0.8,0.9,1]}}
     }},
    {"data": {"name": "a"}, "transform": [{"filter": "datum.series !== 'CP'"}],
     "mark": {"type": "line", "strokeWidth": 1.4, "interpolate": "monotone"},
     "encoding": {
       "x": {"field": "t", "type": "quantitative", "scale": {"domain": [0, 1.9], "nice": false, "zero": false}, "axis": {"orient": "bottom", "title": null, "format": "~g", "labelPadding": 17, "values": [0,0.2,0.4,0.6,0.8,1,1.2,1.4,1.6,1.8]}},
       "y": {"field": "signal", "type": "quantitative", "scale": {"domain": [0, 1.1], "nice": false}, "axis": {"orient": "left", "title": null, "labelPadding": 10, "labelOffset": 2, "format": "~g", "values": [0.1,0.2,0.3,0.4,0.5,0.6,0.7,0.8,0.9,1]}},
       "color": {"field": "series", "type": "nominal", "legend": null, "scale": {"domain": ["tp=0.2TR","tp=0.4TR","tp=0.6TR","tp=0.8TR"], "range": ["#000000","#ff0000","#0000ff","#00ff00"]}}
     }},
    {"data": {"name": "a"}, "transform": [{"filter": "datum.series === 'CP'"}],
     "mark": {"type": "line", "strokeWidth": 2.5, "color": "#ff00ff"},
     "encoding": {
       "x": {"field": "t", "type": "quantitative", "axis": null},
       "y": {"field": "signal", "type": "quantitative", "axis": null}
     }},
    {"data": {"values": [{}]},
     "mark": {"type": "text", "text": "(A)", "font": "Liberation Serif", "fontSize": 21, "color": "#000000"},
     "encoding": {"x": {"datum": -0.2278, "axis": null}, "y": {"datum": 1.0476, "axis": null}}},
    {"data": {"values": [{}]},
     "mark": {"type": "text", "text": "Signal", "font": "Liberation Sans", "fontSize": 20, "angle": 270, "align": "center", "baseline": "middle", "color": "#1a1a1a"},
     "encoding": {"x": {"datum": -0.18, "axis": null}, "y": {"datum": 0.55, "axis": null}}},
    {"data": {"values": [{}]},
     "mark": {"type": "text", "text": "wCP", "font": "Liberation Serif", "fontSize": 26, "color": "#000000"},
     "encoding": {"x": {"datum": 1.2165, "axis": null}, "y": {"datum": 0.9053, "axis": null}}},
    {"data": {"values": [{}]},
     "mark": {"type": "rule", "strokeWidth": 2.5, "color": "#000000", "strokeCap": "square"},
     "encoding": {"x": {"datum": 1.4697, "axis": null}, "y": {"datum": 1.085, "axis": null}, "y2": {"datum": 0.7797}}},
    {"data": {"values": [{}]},
     "mark": {"type": "rule", "strokeWidth": 2.5, "color": "#000000", "strokeCap": "square"},
     "encoding": {"x": {"datum": 1.4697, "axis": null}, "x2": {"datum": 1.4893}, "y": {"datum": 1.085, "axis": null}}},
    {"data": {"values": [{}]},
     "mark": {"type": "rule", "strokeWidth": 2.5, "color": "#000000", "strokeCap": "square"},
     "encoding": {"x": {"datum": 1.4697, "axis": null}, "x2": {"datum": 1.4893}, "y": {"datum": 0.7797, "axis": null}}},
    {"data": {"values": [{}]},
     "encoding": {"x": {"datum": 1.5088, "axis": null}, "y": {"datum": 1.0425, "axis": null}},
     "layer": [
       {"mark": {"type": "text", "text": "t", "fontSize": 14, "color": "#000000"}},
       {"mark": {"type": "text", "text": "p", "fontSize": 11, "dx": 6.7, "dy": 4, "color": "#000000"}},
       {"mark": {"type": "text", "text": "=0.2T", "fontSize": 14, "dx": 14.6, "color": "#000000"}},
       {"mark": {"type": "text", "text": "R", "fontSize": 11, "dx": 60.7, "dy": 5, "color": "#000000"}}
     ]},
    {"data": {"values": [{}]},
     "encoding": {"x": {"datum": 1.5088, "axis": null}, "y": {"datum": 0.9668, "axis": null}},
     "layer": [
       {"mark": {"type": "text", "text": "t", "fontSize": 14, "color": "#ff0000"}},
       {"mark": {"type": "text", "text": "p", "fontSize": 11, "dx": 6.7, "dy": 4, "color": "#ff0000"}},
       {"mark": {"type": "text", "text": "=0.4T", "fontSize": 14, "dx": 14.6, "color": "#ff0000"}},
       {"mark": {"type": "text", "text": "R", "fontSize": 11, "dx": 60.7, "dy": 5, "color": "#ff0000"}}
     ]},
    {"data": {"values": [{}]},
     "encoding": {"x": {"datum": 1.5088, "axis": null}, "y": {"datum": 0.893, "axis": null}},
     "layer": [
       {"mark": {"type": "text", "text": "t", "fontSize": 14, "color": "#0000ff"}},
       {"mark": {"type": "text", "text": "p", "fontSize": 11, "dx": 6.7, "dy": 4, "color": "#0000ff"}},
       {"mark": {"type": "text", "text": "=0.6T", "fontSize": 14, "dx": 14.6, "color": "#0000ff"}},
       {"mark": {"type": "text", "text": "R", "fontSize": 11, "dx": 60.7, "dy": 5, "color": "#0000ff"}}
     ]},
    {"data": {"values": [{}]},
     "encoding": {"x": {"datum": 1.5088, "axis": null}, "y": {"datum": 0.8174, "axis": null}},
     "layer": [
       {"mark": {"type": "text", "text": "t", "fontSize": 14, "color": "#00ff00"}},
       {"mark": {"type": "text", "text": "p", "fontSize": 11, "dx": 6.7, "dy": 4, "color": "#00ff00"}},
       {"mark": {"type": "text", "text": "=0.8T", "fontSize": 14, "dx": 14.6, "color": "#00ff00"}},
       {"mark": {"type": "text", "text": "R", "fontSize": 11, "dx": 60.7, "dy": 5, "color": "#00ff00"}}
     ]},
    {"data": {"values": [{}]},
     "mark": {"type": "text", "text": "CP", "fontSize": 20, "color": "#ff00ff"},
     "encoding": {"x": {"datum": 1.51, "axis": null}, "y": {"datum": 0.721, "axis": null}}},
    {"data": {"values": [{}]},
     "mark": {"type": "text", "text": "FOH", "fontSize": 19, "color": "#808080"},
     "encoding": {"x": {"datum": 1.51, "axis": null}, "y": {"datum": 0.655, "axis": null}}},
    {"data": {"values": [{}]},
     "encoding": {"x": {"datum": 0.782, "axis": null}, "y": {"datum": -0.127, "axis": null}},
     "layer": [
       {"mark": {"type": "text", "text": "t", "fontSize": 17, "color": "#1a1a1a"}},
       {"mark": {"type": "text", "text": "mix", "fontSize": 13.5, "dx": 7.4, "dy": 8, "color": "#1a1a1a"}},
       {"mark": {"type": "text", "text": "(ms)", "fontSize": 17, "dx": 42.5, "color": "#1a1a1a"}}
     ]}
  ]
},
{
  "width": 477, "height": 388,
  "resolve": {"axis": {"x": "independent", "y": "independent"}},
  "layer": [
    {"data": {"name": "b"},
     "mark": {"type": "line", "strokeWidth": 1.5, "interpolate": "monotone"},
     "encoding": {
       "x": {"field": "t", "type": "quantitative", "scale": {"domain": [0, 1.878], "nice": false, "zero": false}, "axis": {"orient": "bottom", "title": null, "format": "~g", "labelPadding": 17, "values": [0,0.2,0.4,0.6,0.8,1,1.2,1.4,1.6,1.8]}},
       "y": {"field": "signal", "type": "quantitative", "scale": {"domain": [0, 1.1], "nice": false}, "axis": {"orient": "left", "title": null, "labelPadding": 10, "labelOffset": 2, "format": "~g", "values": [0.1,0.2,0.3,0.4,0.5,0.6,0.7,0.8,0.9,1]}},
       "color": {"field": "series", "type": "nominal", "legend": null, "sort": null, "scale": {"domain": ["tl=0.5TR","tl=0.6TR","tl=0.7TR","tl=0.8TR","tl=0.9TR","tl=TR"], "range": ["#000000","#ff0000","#0000ff","#00ff00","#ff00ff","#00ffff"]}}
     }},
    {"data": {"name": "b"}, "transform": [{"filter": "datum.series === 'tl=0.5TR'"}],
     "mark": {"type": "line", "strokeWidth": 0, "opacity": 0},
     "encoding": {
       "x": {"field": "t", "type": "quantitative", "axis": {"orient": "top", "labels": false, "title": null, "values": [0,0.2,0.4,0.6,0.8,1,1.2,1.4,1.6,1.8]}},
       "y": {"field": "signal", "type": "quantitative", "axis": {"orient": "right", "labels": false, "title": null, "values": [0.1,0.2,0.3,0.4,0.5,0.6,0.7,0.8,0.9,1]}}
     }},
    {"data": {"values": [{}]},
     "mark": {"type": "text", "text": "(B)", "font": "Liberation Serif", "fontSize": 21, "color": "#000000"},
     "encoding": {"x": {"datum": -0.2252, "axis": null}, "y": {"datum": 1.0454, "axis": null}}},
    {"data": {"values": [{}]},
     "mark": {"type": "text", "text": "Signal", "font": "Liberation Sans", "fontSize": 20, "angle": 270, "align": "center", "baseline": "middle", "color": "#1a1a1a"},
     "encoding": {"x": {"datum": -0.181, "axis": null}, "y": {"datum": 0.55, "axis": null}}},
    {"data": {"values": [{}]},
     "mark": {"type": "text", "text": "wCP", "font": "Liberation Serif", "fontSize": 26, "color": "#000000"},
     "encoding": {"x": {"datum": 1.0916, "axis": null}, "y": {"datum": 0.834, "axis": null}}},
    {"data": {"values": [{}]},
     "mark": {"type": "rule", "strokeWidth": 2.5, "color": "#000000", "strokeCap": "square"},
     "encoding": {"x": {"datum": 1.354, "axis": null}, "y": {"datum": 1.0754, "axis": null}, "y2": {"datum": 0.6598}}},
    {"data": {"values": [{}]},
     "mark": {"type": "rule", "strokeWidth": 2.5, "color": "#000000", "strokeCap": "square"},
     "encoding": {"x": {"datum": 1.354, "axis": null}, "x2": {"datum": 1.392}, "y": {"datum": 1.0754, "axis": null}}},
    {"data": {"values": [{}]},
     "mark": {"type": "rule", "strokeWidth": 2.5, "color": "#000000", "strokeCap": "square"},
     "encoding": {"x": {"datum": 1.354, "axis": null}, "x2": {"datum": 1.392}, "y": {"datum": 0.6598, "axis": null}}},
    {"data": {"values": [{}]},
     "encoding": {"x": {"datum": 1.4037, "axis": null}, "y": {"datum": 1.029, "axis": null}},
     "layer": [
       {"mark": {"type": "text", "text": "t", "fontSize": 14, "color": "#000000"}},
       {"mark": {"type": "text", "text": "l", "fontSize": 11, "dx": 6.7, "dy": 4, "color": "#000000"}},
       {"mark": {"type": "text", "text": "=0.5T", "fontSize": 14, "dx": 10.5, "color": "#000000"}},
       {"mark": {"type": "text", "text": "R", "fontSize": 11, "dx": 56.6, "dy": 5, "color": "#000000"}}
     ]},
    {"data": {"values": [{}]},
     "encoding": {"x": {"datum": 1.4037, "axis": null}, "y": {"datum": 0.959, "axis": null}},
     "layer": [
       {"mark": {"type": "text", "text": "t", "fontSize": 14, "color": "#ff0000"}},
       {"mark": {"type": "text", "text": "l", "fontSize": 11, "dx": 6.7, "dy": 4, "color": "#ff0000"}},
       {"mark": {"type": "text", "text": "=0.6T", "fontSize": 14, "dx": 10.5, "color": "#ff0000"}},
       {"mark": {"type": "text", "text": "R", "fontSize": 11, "dx": 56.6, "dy": 5, "color": "#ff0000"}}
     ]},
    {"data": {"values": [{}]},
     "encoding": {"x": {"datum": 1.4037, "axis": null}, "y": {"datum": 0.88, "axis": null}},
     "layer": [
       {"mark": {"type": "text", "text": "t", "fontSize": 14, "color": "#0000ff"}},
       {"mark": {"type": "text", "text": "l", "fontSize": 11, "dx": 6.7, "dy": 4, "color": "#0000ff"}},
       {"mark": {"type": "text", "text": "=0.7T", "fontSize": 14, "dx": 10.5, "color": "#0000ff"}},
       {"mark": {"type": "text", "text": "R", "fontSize": 11, "dx": 56.6, "dy": 5, "color": "#0000ff"}}
     ]},
    {"data": {"values": [{}]},
     "encoding": {"x": {"datum": 1.4037, "axis": null}, "y": {"datum": 0.811, "axis": null}},
     "layer": [
       {"mark": {"type": "text", "text": "t", "fontSize": 14, "color": "#00ff00"}},
       {"mark": {"type": "text", "text": "l", "fontSize": 11, "dx": 6.7, "dy": 4, "color": "#00ff00"}},
       {"mark": {"type": "text", "text": "=0.8T", "fontSize": 14, "dx": 10.5, "color": "#00ff00"}},
       {"mark": {"type": "text", "text": "R", "fontSize": 11, "dx": 56.6, "dy": 5, "color": "#00ff00"}}
     ]},
    {"data": {"values": [{}]},
     "encoding": {"x": {"datum": 1.4037, "axis": null}, "y": {"datum": 0.742, "axis": null}},
     "layer": [
       {"mark": {"type": "text", "text": "t", "fontSize": 14, "color": "#ff00ff"}},
       {"mark": {"type": "text", "text": "l", "fontSize": 11, "dx": 6.7, "dy": 4, "color": "#ff00ff"}},
       {"mark": {"type": "text", "text": "=0.9T", "fontSize": 14, "dx": 10.5, "color": "#ff00ff"}},
       {"mark": {"type": "text", "text": "R", "fontSize": 11, "dx": 56.6, "dy": 5, "color": "#ff00ff"}}
     ]},
    {"data": {"values": [{}]},
     "encoding": {"x": {"datum": 1.4037, "axis": null}, "y": {"datum": 0.669, "axis": null}},
     "layer": [
       {"mark": {"type": "text", "text": "t", "fontSize": 14, "color": "#00ffff"}},
       {"mark": {"type": "text", "text": "l", "fontSize": 11, "dx": 6.7, "dy": 4, "color": "#00ffff"}},
       {"mark": {"type": "text", "text": "=T", "fontSize": 14, "dx": 10.5, "color": "#00ffff"}},
       {"mark": {"type": "text", "text": "R", "fontSize": 11, "dx": 31.8, "dy": 5, "color": "#00ffff"}}
     ]},
    {"data": {"values": [{}]},
     "mark": {"type": "rect", "fill": "#ffffff", "stroke": "#000000", "strokeWidth": 1.5},
     "encoding": {"x": {"datum": 1.4823, "axis": null}, "x2": {"datum": 1.79}, "y": {"datum": 0.1843, "axis": null}, "y2": {"datum": 0.0944}}},
    {"data": {"values": [{}]},
     "encoding": {"x": {"datum": 1.4953, "axis": null}, "y": {"datum": 0.1256, "axis": null}},
     "layer": [
       {"mark": {"type": "text", "text": "t", "fontSize": 14, "color": "#808080"}},
       {"mark": {"type": "text", "text": "S", "fontSize": 11, "dx": 6.7, "dy": 4, "color": "#808080"}},
       {"mark": {"type": "text", "text": "=0.5T", "fontSize": 14, "dx": 14.6, "color": "#808080"}},
       {"mark": {"type": "text", "text": "R", "fontSize": 11, "dx": 60.7, "dy": 5, "color": "#808080"}}
     ]},
    {"data": {"values": [{}]},
     "encoding": {"x": {"datum": 0.782, "axis": null}, "y": {"datum": -0.127, "axis": null}},
     "layer": [
       {"mark": {"type": "text", "text": "t", "fontSize": 17, "color": "#1a1a1a"}},
       {"mark": {"type": "text", "text": "mix", "fontSize": 13.5, "dx": 7.4, "dy": 8, "color": "#1a1a1a"}},
       {"mark": {"type": "text", "text": "(ms)", "fontSize": 17, "dx": 42.5, "color": "#1a1a1a"}}
     ]}
  ]
}
]
}
